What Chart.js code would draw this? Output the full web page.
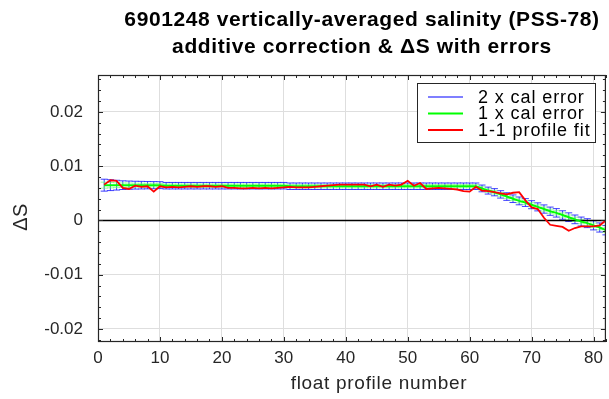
<!DOCTYPE html>
<html><head><meta charset="utf-8">
<script src="https://cdn.jsdelivr.net/npm/chart.js@4/dist/chart.umd.min.js"></script>
<style>html,body{margin:0;padding:0;background:#fff;overflow:hidden}#wrap{width:609px;height:399px}</style>
</head><body><div id="wrap"><canvas id="c" width="609" height="399"></canvas></div>
<script>
const profiles = [1,2,3,4,5,6,7,8,9,10,11,12,13,14,15,16,17,18,19,20,21,22,23,24,25,26,27,28,29,30,31,32,33,34,35,36,37,38,39,40,41,42,43,44,45,46,47,48,49,50,51,52,53,54,55,56,57,58,59,60,61,62,63,64,65,66,67,68,69,70,71,72,73,74,75,76,77,78,79,80,81,82];
const fitValues = [0.0065,0.0065,0.0065,0.0065,0.0065,0.0065,0.0065,0.0065,0.0065,0.0065,
  0.0064,0.0064,0.0064,0.0064,0.0064,0.0064,0.0064,0.0064,0.0064,0.0064,
  0.0064,0.0064,0.0064,0.0064,0.0064,0.0064,0.0064,0.0064,0.0064,0.0064,
  0.0063,0.0063,0.0063,0.0063,0.0063,0.0063,0.0063,0.0063,0.0063,0.0063,
  0.0063,0.0063,0.0063,0.0063,0.0063,0.0063,0.0063,0.0063,0.0063,0.0063,
  0.0063,0.0063,0.0063,0.0063,0.0063,0.0063,0.0063,0.0063,0.0063,0.0063,
  0.0063,0.0059,0.0055,0.0052,0.0048,0.0044,0.0040,0.0036,0.0033,0.0029,
  0.0025,0.0021,0.0017,0.0014,0.0010,0.0006,0.0002,-0.0002,-0.0005,-0.0009,
  -0.0013,-0.0018];
const calError = [0.00055,0.0005,0.00045,0.0004,0.00038,0.00036,0.00035,0.00034,0.00033,0.00032,
  0.0003,0.0003,0.0003,0.0003,0.0003,0.0003,0.0003,0.0003,0.0003,0.0003,
  0.0003,0.0003,0.0003,0.0003,0.0003,0.0003,0.0003,0.0003,0.0003,0.0003,
  0.0003,0.0003,0.0003,0.0003,0.0003,0.0003,0.0003,0.0003,0.0003,0.0003,
  0.0003,0.0003,0.0003,0.0003,0.0003,0.0003,0.0003,0.0003,0.0003,0.0003,
  0.0003,0.0003,0.0003,0.0003,0.0003,0.0003,0.0003,0.0003,0.0003,0.0003,
  0.0003,0.00031,0.00032,0.00033,0.00034,0.00035,0.00035,0.00036,0.00036,0.00037,
  0.00037,0.00038,0.00038,0.00039,0.00039,0.0004,0.0004,0.00041,0.00041,0.00042,
  0.00042,0.00043];
const profileFit = [0.0066,0.0074,0.0073,0.0060,0.0058,0.0064,0.0062,0.0063,0.0053,0.0063,
  0.0061,0.0062,0.0061,0.0062,0.0063,0.0062,0.0063,0.0063,0.0062,0.0063,
  0.0060,0.0060,0.0059,0.0059,0.0060,0.0059,0.0060,0.0059,0.0060,0.0061,
  0.0062,0.0061,0.0061,0.0061,0.0062,0.0063,0.0064,0.0065,0.0066,0.0066,
  0.0066,0.0066,0.0066,0.0063,0.0066,0.0062,0.0066,0.0064,0.0066,0.0073,
  0.0064,0.0069,0.0058,0.0059,0.0060,0.0059,0.0058,0.0057,0.0054,0.0053,
  0.0062,0.0055,0.0054,0.0052,0.0050,0.0048,0.0051,0.0052,0.0037,0.0024,
  0.0021,0.0005,-0.0008,-0.0010,-0.0012,-0.0019,-0.0014,-0.0011,-0.0011,-0.0011,
  -0.0009,0.0000];
const xTicks = [0,10,20,30,40,50,60,70,80];
const yTicks = [-0.02,-0.01,0,0.01,0.02];
const xRange = [0, 82];
const yRange = [-0.0224, 0.0268];
const titleLines = ['6901248 vertically-averaged salinity (PSS-78)', 'additive correction & ΔS with errors'];
const xLabel = 'float profile number';
const yLabel = 'ΔS';
const legendLabels = ['2 x cal error', '1 x cal error', '1-1 profile fit'];
const legendColors = ['#0000ff', '#00ff00', '#ff0000'];

const FONT = '"Liberation Sans", Arial, Helvetica, sans-serif';

const errorBars = {
  id: 'errorBars',
  beforeDatasetsDraw(chart) {
    const {ctx, chartArea: a, scales: {x, y}} = chart;
    ctx.save();
    ctx.beginPath(); ctx.rect(a.left, a.top, a.right - a.left, a.bottom - a.top); ctx.clip();
    const draw = (mult, color, cap) => {
      ctx.strokeStyle = color; ctx.lineWidth = 1;
      ctx.beginPath();
      profiles.forEach((p, i) => {
        const px = x.getPixelForValue(p);
        const y1 = y.getPixelForValue(fitValues[i] + mult * calError[i]);
        const y2 = y.getPixelForValue(fitValues[i] - mult * calError[i]);
        ctx.moveTo(px, y1); ctx.lineTo(px, y2);
        ctx.moveTo(px - cap, y1); ctx.lineTo(px + cap, y1);
        ctx.moveTo(px - cap, y2); ctx.lineTo(px + cap, y2);
      });
      ctx.stroke();
    };
    draw(2, 'rgba(30,30,255,0.85)', 3.5);
    draw(1, 'rgba(90,255,90,0.6)', 3.5);
    const y0 = y.getPixelForValue(0);
    ctx.strokeStyle = '#000'; ctx.lineWidth = 1.5;
    ctx.beginPath(); ctx.moveTo(a.left, y0); ctx.lineTo(a.right, y0); ctx.stroke();
    ctx.restore();
  },
  afterDatasetsDraw(chart) {
    const {ctx, chartArea: a, scales: {x, y}} = chart;
    ctx.save();
    ctx.strokeStyle = '#262626'; ctx.lineWidth = 1;
    ctx.beginPath();
    for (let v = xRange[0]; v <= xRange[1] + 1e-9; v += 2) {
      const px = Math.round(x.getPixelForValue(v)) + 0.5;
      const L = (v % 10 === 0) ? 5 : 3;
      ctx.moveTo(px, a.bottom); ctx.lineTo(px, a.bottom - L);
      ctx.moveTo(px, a.top); ctx.lineTo(px, a.top + L);
    }
    for (let k = -11; k <= 13; k++) {
      const v = k * 0.002;
      if (v < yRange[0] || v > yRange[1]) continue;
      const py = Math.round(y.getPixelForValue(v)) + 0.5;
      const L = (k % 5 === 0) ? 5 : 3;
      ctx.moveTo(a.left, py); ctx.lineTo(a.left + L, py);
      ctx.moveTo(a.right, py); ctx.lineTo(a.right - L, py);
    }
    ctx.stroke();
    ctx.lineWidth = 1.2;
    ctx.strokeRect(a.left + 0.5, a.top + 0.5, a.right - a.left - 1, a.bottom - a.top - 1);
    ctx.restore();
  },
  afterDraw(chart) {
    const {ctx} = chart;
    ctx.save();
    ctx.fillStyle = '#000';
    ctx.font = 'bold 21px ' + FONT;
    ctx.letterSpacing = '0.6px';
    ctx.textAlign = 'center'; ctx.textBaseline = 'middle';
    ctx.fillText(titleLines[0], 362, 20);
    ctx.fillText(titleLines[1], 362, 47);
    ctx.fillStyle = '#262626';
    ctx.font = '19px ' + FONT;
    ctx.letterSpacing = '0.7px';
    ctx.fillText(xLabel, 379, 384);
    ctx.save();
    ctx.font = '20px ' + FONT;
    ctx.letterSpacing = '0.5px';
    ctx.translate(21, 217); ctx.rotate(-Math.PI / 2);
    ctx.fillText(yLabel, 0, 0);
    ctx.restore();
    const lx = 417, ly = 83, lw = 178, lh = 59;
    ctx.fillStyle = '#fff'; ctx.fillRect(lx, ly, lw, lh);
    ctx.strokeStyle = '#262626'; ctx.lineWidth = 1;
    ctx.strokeRect(lx + 0.5, ly + 0.5, lw, lh);
    const rows = [97, 113.5, 130];
    ctx.font = '18px ' + FONT; ctx.letterSpacing = '0.9px';
    ctx.textAlign = 'left'; ctx.textBaseline = 'middle';
    legendLabels.forEach((t, i) => {
      ctx.strokeStyle = legendColors[i]; ctx.lineWidth = i === 0 ? 1.2 : 2;
      ctx.beginPath(); ctx.moveTo(428, rows[i]); ctx.lineTo(463, rows[i]); ctx.stroke();
      ctx.fillStyle = '#000';
      ctx.fillText(t, 478, rows[i] + 1);
    });
    ctx.restore();
  }
};

new Chart(document.getElementById('c'), {
  type: 'line',
  data: {
    datasets: [
      { label: legendLabels[2], data: profiles.map((p, i) => ({x: p, y: profileFit[i]})),
        borderColor: '#ff0000', borderWidth: 1.8, pointRadius: 0, tension: 0, fill: false },
      { label: legendLabels[1], data: profiles.map((p, i) => ({x: p, y: fitValues[i]})),
        borderColor: '#00ff00', borderWidth: 2, pointRadius: 0, tension: 0, fill: false }
    ]
  },
  options: {
    responsive: false, animation: false, devicePixelRatio: 1,
    layout: { padding: { top: 75, right: 1, left: 0, bottom: 0 } },
    plugins: { legend: { display: false }, title: { display: false }, tooltip: { enabled: false } },
    scales: {
      x: {
        type: 'linear', min: xRange[0], max: xRange[1],
        afterBuildTicks: s => { s.ticks = xTicks.map(v => ({value: v})); },
        afterFit: s => { s.height = 57; },
        grid: { color: '#dedede', lineWidth: 1, drawTicks: false },
        border: { display: false },
        ticks: { autoSkip: false, maxRotation: 0, padding: 6, color: '#262626',
          font: { size: 17, family: FONT }, callback: v => String(v) }
      },
      y: {
        type: 'linear', min: yRange[0], max: yRange[1],
        afterBuildTicks: s => { s.ticks = yTicks.map(v => ({value: v})); },
        afterFit: s => { s.width = 98; },
        grid: { color: '#dedede', lineWidth: 1, drawTicks: false },
        border: { display: false },
        ticks: { autoSkip: false, padding: 15, color: '#262626',
          font: { size: 17, family: FONT }, callback: v => String(v) }
      }
    }
  },
  plugins: [errorBars]
});
</script></body></html>
